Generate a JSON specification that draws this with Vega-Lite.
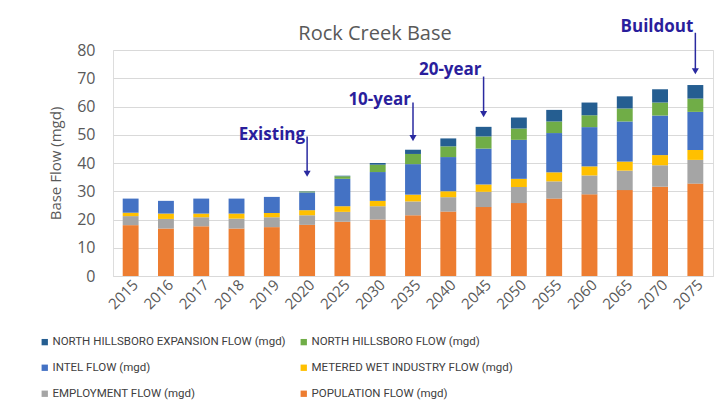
{
  "$schema": "https://vega.github.io/schema/vega-lite/v6.json",
  "width": 600,
  "height": 226,
  "autosize": {"type": "none"},
  "padding": {"left": 113, "top": 50, "right": 4, "bottom": 140},
  "background": "white",
  "title": {"text": "Rock Creek Base", "fontSize": 20, "font": "Open Sans", "fontWeight": "normal", "color": "#595959", "dx": -38, "offset": -26},
  "config": {
    "axisX": {"labelAngle": -45, "labelFont": "Open Sans", "labelFontSize": 15, "labelColor": "#595959", "ticks": false, "domain": true, "domainColor": "#d9d9d9", "labelPadding": 1, "grid": false},
    "axisY": {"titleFont": "Open Sans", "titleFontSize": 15, "titleFontWeight": "normal", "titleColor": "#595959", "titlePadding": 13, "labelFont": "Open Sans", "labelFontSize": 16, "labelColor": "#595959", "labelPadding": 18, "labelOverlap": false, "ticks": false, "domain": false, "grid": true, "gridColor": "#d9d9d9", "tickCount": 20}
  },
  "datasets": {
    "order": [
      {"series": "POPULATION FLOW (mgd)", "rank": 1},
      {"series": "EMPLOYMENT FLOW (mgd)", "rank": 2},
      {"series": "METERED WET INDUSTRY FLOW (mgd)", "rank": 3},
      {"series": "INTEL FLOW (mgd)", "rank": 4},
      {"series": "NORTH HILLSBORO FLOW (mgd)", "rank": 5},
      {"series": "NORTH HILLSBORO EXPANSION FLOW (mgd)", "rank": 6}
    ],
    "flows": [
      {"year": 2015, "series": "POPULATION FLOW (mgd)", "flow": 18.0},
      {"year": 2015, "series": "EMPLOYMENT FLOW (mgd)", "flow": 3.2},
      {"year": 2015, "series": "METERED WET INDUSTRY FLOW (mgd)", "flow": 1.2},
      {"year": 2015, "series": "INTEL FLOW (mgd)", "flow": 5.0},
      {"year": 2015, "series": "NORTH HILLSBORO FLOW (mgd)", "flow": 0},
      {"year": 2015, "series": "NORTH HILLSBORO EXPANSION FLOW (mgd)", "flow": 0},
      {"year": 2016, "series": "POPULATION FLOW (mgd)", "flow": 16.8},
      {"year": 2016, "series": "EMPLOYMENT FLOW (mgd)", "flow": 3.4},
      {"year": 2016, "series": "METERED WET INDUSTRY FLOW (mgd)", "flow": 1.9},
      {"year": 2016, "series": "INTEL FLOW (mgd)", "flow": 4.5},
      {"year": 2016, "series": "NORTH HILLSBORO FLOW (mgd)", "flow": 0},
      {"year": 2016, "series": "NORTH HILLSBORO EXPANSION FLOW (mgd)", "flow": 0},
      {"year": 2017, "series": "POPULATION FLOW (mgd)", "flow": 17.6},
      {"year": 2017, "series": "EMPLOYMENT FLOW (mgd)", "flow": 3.2},
      {"year": 2017, "series": "METERED WET INDUSTRY FLOW (mgd)", "flow": 1.3},
      {"year": 2017, "series": "INTEL FLOW (mgd)", "flow": 5.3},
      {"year": 2017, "series": "NORTH HILLSBORO FLOW (mgd)", "flow": 0},
      {"year": 2017, "series": "NORTH HILLSBORO EXPANSION FLOW (mgd)", "flow": 0},
      {"year": 2018, "series": "POPULATION FLOW (mgd)", "flow": 16.8},
      {"year": 2018, "series": "EMPLOYMENT FLOW (mgd)", "flow": 3.5},
      {"year": 2018, "series": "METERED WET INDUSTRY FLOW (mgd)", "flow": 1.8},
      {"year": 2018, "series": "INTEL FLOW (mgd)", "flow": 5.3},
      {"year": 2018, "series": "NORTH HILLSBORO FLOW (mgd)", "flow": 0},
      {"year": 2018, "series": "NORTH HILLSBORO EXPANSION FLOW (mgd)", "flow": 0},
      {"year": 2019, "series": "POPULATION FLOW (mgd)", "flow": 17.3},
      {"year": 2019, "series": "EMPLOYMENT FLOW (mgd)", "flow": 3.5},
      {"year": 2019, "series": "METERED WET INDUSTRY FLOW (mgd)", "flow": 1.5},
      {"year": 2019, "series": "INTEL FLOW (mgd)", "flow": 5.7},
      {"year": 2019, "series": "NORTH HILLSBORO FLOW (mgd)", "flow": 0},
      {"year": 2019, "series": "NORTH HILLSBORO EXPANSION FLOW (mgd)", "flow": 0},
      {"year": 2020, "series": "POPULATION FLOW (mgd)", "flow": 18.1},
      {"year": 2020, "series": "EMPLOYMENT FLOW (mgd)", "flow": 3.4},
      {"year": 2020, "series": "METERED WET INDUSTRY FLOW (mgd)", "flow": 1.8},
      {"year": 2020, "series": "INTEL FLOW (mgd)", "flow": 6.3},
      {"year": 2020, "series": "NORTH HILLSBORO FLOW (mgd)", "flow": 0.3},
      {"year": 2020, "series": "NORTH HILLSBORO EXPANSION FLOW (mgd)", "flow": 0.1},
      {"year": 2025, "series": "POPULATION FLOW (mgd)", "flow": 19.2},
      {"year": 2025, "series": "EMPLOYMENT FLOW (mgd)", "flow": 3.5},
      {"year": 2025, "series": "METERED WET INDUSTRY FLOW (mgd)", "flow": 2.0},
      {"year": 2025, "series": "INTEL FLOW (mgd)", "flow": 9.7},
      {"year": 2025, "series": "NORTH HILLSBORO FLOW (mgd)", "flow": 0.9},
      {"year": 2025, "series": "NORTH HILLSBORO EXPANSION FLOW (mgd)", "flow": 0.2},
      {"year": 2030, "series": "POPULATION FLOW (mgd)", "flow": 20.0},
      {"year": 2030, "series": "EMPLOYMENT FLOW (mgd)", "flow": 4.7},
      {"year": 2030, "series": "METERED WET INDUSTRY FLOW (mgd)", "flow": 1.9},
      {"year": 2030, "series": "INTEL FLOW (mgd)", "flow": 10.2},
      {"year": 2030, "series": "NORTH HILLSBORO FLOW (mgd)", "flow": 2.6},
      {"year": 2030, "series": "NORTH HILLSBORO EXPANSION FLOW (mgd)", "flow": 0.6},
      {"year": 2035, "series": "POPULATION FLOW (mgd)", "flow": 21.5},
      {"year": 2035, "series": "EMPLOYMENT FLOW (mgd)", "flow": 4.9},
      {"year": 2035, "series": "METERED WET INDUSTRY FLOW (mgd)", "flow": 2.4},
      {"year": 2035, "series": "INTEL FLOW (mgd)", "flow": 10.8},
      {"year": 2035, "series": "NORTH HILLSBORO FLOW (mgd)", "flow": 3.6},
      {"year": 2035, "series": "NORTH HILLSBORO EXPANSION FLOW (mgd)", "flow": 1.5},
      {"year": 2040, "series": "POPULATION FLOW (mgd)", "flow": 22.8},
      {"year": 2040, "series": "EMPLOYMENT FLOW (mgd)", "flow": 5.1},
      {"year": 2040, "series": "METERED WET INDUSTRY FLOW (mgd)", "flow": 2.1},
      {"year": 2040, "series": "INTEL FLOW (mgd)", "flow": 12.1},
      {"year": 2040, "series": "NORTH HILLSBORO FLOW (mgd)", "flow": 3.8},
      {"year": 2040, "series": "NORTH HILLSBORO EXPANSION FLOW (mgd)", "flow": 2.8},
      {"year": 2045, "series": "POPULATION FLOW (mgd)", "flow": 24.4},
      {"year": 2045, "series": "EMPLOYMENT FLOW (mgd)", "flow": 5.4},
      {"year": 2045, "series": "METERED WET INDUSTRY FLOW (mgd)", "flow": 2.6},
      {"year": 2045, "series": "INTEL FLOW (mgd)", "flow": 12.7},
      {"year": 2045, "series": "NORTH HILLSBORO FLOW (mgd)", "flow": 4.3},
      {"year": 2045, "series": "NORTH HILLSBORO EXPANSION FLOW (mgd)", "flow": 3.4},
      {"year": 2050, "series": "POPULATION FLOW (mgd)", "flow": 25.8},
      {"year": 2050, "series": "EMPLOYMENT FLOW (mgd)", "flow": 5.7},
      {"year": 2050, "series": "METERED WET INDUSTRY FLOW (mgd)", "flow": 2.9},
      {"year": 2050, "series": "INTEL FLOW (mgd)", "flow": 13.8},
      {"year": 2050, "series": "NORTH HILLSBORO FLOW (mgd)", "flow": 4.0},
      {"year": 2050, "series": "NORTH HILLSBORO EXPANSION FLOW (mgd)", "flow": 3.9},
      {"year": 2055, "series": "POPULATION FLOW (mgd)", "flow": 27.4},
      {"year": 2055, "series": "EMPLOYMENT FLOW (mgd)", "flow": 6.1},
      {"year": 2055, "series": "METERED WET INDUSTRY FLOW (mgd)", "flow": 3.2},
      {"year": 2055, "series": "INTEL FLOW (mgd)", "flow": 13.9},
      {"year": 2055, "series": "NORTH HILLSBORO FLOW (mgd)", "flow": 4.1},
      {"year": 2055, "series": "NORTH HILLSBORO EXPANSION FLOW (mgd)", "flow": 4.1},
      {"year": 2060, "series": "POPULATION FLOW (mgd)", "flow": 28.9},
      {"year": 2060, "series": "EMPLOYMENT FLOW (mgd)", "flow": 6.7},
      {"year": 2060, "series": "METERED WET INDUSTRY FLOW (mgd)", "flow": 3.2},
      {"year": 2060, "series": "INTEL FLOW (mgd)", "flow": 13.9},
      {"year": 2060, "series": "NORTH HILLSBORO FLOW (mgd)", "flow": 4.2},
      {"year": 2060, "series": "NORTH HILLSBORO EXPANSION FLOW (mgd)", "flow": 4.5},
      {"year": 2065, "series": "POPULATION FLOW (mgd)", "flow": 30.4},
      {"year": 2065, "series": "EMPLOYMENT FLOW (mgd)", "flow": 6.9},
      {"year": 2065, "series": "METERED WET INDUSTRY FLOW (mgd)", "flow": 3.2},
      {"year": 2065, "series": "INTEL FLOW (mgd)", "flow": 14.2},
      {"year": 2065, "series": "NORTH HILLSBORO FLOW (mgd)", "flow": 4.6},
      {"year": 2065, "series": "NORTH HILLSBORO EXPANSION FLOW (mgd)", "flow": 4.3},
      {"year": 2070, "series": "POPULATION FLOW (mgd)", "flow": 31.6},
      {"year": 2070, "series": "EMPLOYMENT FLOW (mgd)", "flow": 7.6},
      {"year": 2070, "series": "METERED WET INDUSTRY FLOW (mgd)", "flow": 3.6},
      {"year": 2070, "series": "INTEL FLOW (mgd)", "flow": 14.0},
      {"year": 2070, "series": "NORTH HILLSBORO FLOW (mgd)", "flow": 4.6},
      {"year": 2070, "series": "NORTH HILLSBORO EXPANSION FLOW (mgd)", "flow": 4.7},
      {"year": 2075, "series": "POPULATION FLOW (mgd)", "flow": 32.7},
      {"year": 2075, "series": "EMPLOYMENT FLOW (mgd)", "flow": 8.4},
      {"year": 2075, "series": "METERED WET INDUSTRY FLOW (mgd)", "flow": 3.5},
      {"year": 2075, "series": "INTEL FLOW (mgd)", "flow": 13.5},
      {"year": 2075, "series": "NORTH HILLSBORO FLOW (mgd)", "flow": 4.7},
      {"year": 2075, "series": "NORTH HILLSBORO EXPANSION FLOW (mgd)", "flow": 4.8}
    ],
    "notes": [
      {"year": 2020, "label": "Existing", "top": 49.4, "tip": 36.2, "base": 48.3},
      {"year": 2035, "label": "10-year", "top": 61.4, "tip": 48.8, "base": 60.7},
      {"year": 2045, "label": "20-year", "top": 70.6, "tip": 57.3, "base": 71.3},
      {"year": 2075, "label": "Buildout", "top": 86.1, "tip": 72.5, "base": 86.5}
    ]
  },
  "layer": [
    {
      "data": {"name": "flows"},
      "transform": [
        {"lookup": "series", "from": {"data": {"name": "order"}, "key": "series", "fields": ["rank"]}}
      ],
      "mark": {"type": "bar"},
      "encoding": {
        "x": {
          "field": "year", "type": "ordinal",
          "scale": {"domain": [2015, 2016, 2017, 2018, 2019, 2020, 2025, 2030, 2035, 2040, 2045, 2050, 2055, 2060, 2065, 2070, 2075], "paddingInner": 0.55, "paddingOuter": 0.275},
          "axis": {"title": null}
        },
        "y": {
          "field": "flow", "type": "quantitative", "stack": "zero",
          "scale": {"domain": [0, 80], "nice": false},
          "axis": {"title": "Base Flow (mgd)", "values": [0, 10, 20, 30, 40, 50, 60, 70, 80], "tickCount": 20}
        },
        "order": {"field": "rank", "type": "quantitative", "sort": "ascending"},
        "color": {
          "field": "series", "type": "nominal",
          "scale": {
            "domain": ["POPULATION FLOW (mgd)", "EMPLOYMENT FLOW (mgd)", "METERED WET INDUSTRY FLOW (mgd)", "INTEL FLOW (mgd)", "NORTH HILLSBORO FLOW (mgd)", "NORTH HILLSBORO EXPANSION FLOW (mgd)"],
            "range": ["#ed7d31", "#a5a5a5", "#ffc000", "#4472c4", "#70ad47", "#255e91"]
          },
          "legend": {
            "title": null, "orient": "none", "legendX": -74, "legendY": 286,
            "columns": 2, "direction": "horizontal",
            "values": ["NORTH HILLSBORO EXPANSION FLOW (mgd)", "NORTH HILLSBORO FLOW (mgd)", "INTEL FLOW (mgd)", "METERED WET INDUSTRY FLOW (mgd)", "EMPLOYMENT FLOW (mgd)", "POPULATION FLOW (mgd)"],
            "symbolType": "square", "symbolSize": 40, "symbolStrokeWidth": 0,
            "labelFont": "Roboto", "labelFontSize": 11.5, "labelColor": "#404040", "labelLimit": 400, "labelOffset": 2,
            "rowPadding": 13, "columnPadding": 12
          }
        }
      }
    },
    {
      "data": {"name": "notes"},
      "mark": {"type": "rule", "color": "#2a2aa0", "strokeWidth": 1.5},
      "encoding": {
        "x": {"field": "year", "type": "ordinal", "axis": {"title": null}},
        "y": {"field": "top", "type": "quantitative", "axis": {"title": "Base Flow (mgd)", "values": [0, 10, 20, 30, 40, 50, 60, 70, 80], "tickCount": 20}},
        "y2": {"field": "tip"}
      }
    },
    {
      "data": {"name": "notes"},
      "mark": {"type": "point", "shape": "triangle-down", "filled": true, "size": 50, "color": "#2a2aa0", "opacity": 1},
      "encoding": {
        "x": {"field": "year", "type": "ordinal", "axis": {"title": null}},
        "y": {"field": "tip", "type": "quantitative", "axis": {"title": "Base Flow (mgd)", "values": [0, 10, 20, 30, 40, 50, 60, 70, 80], "tickCount": 20}}
      }
    },
    {
      "data": {"name": "notes"},
      "mark": {"type": "text", "align": "right", "baseline": "alphabetic", "dx": -2, "font": "Open Sans", "fontSize": 17, "fontWeight": "bold", "color": "#2a1e9c"},
      "encoding": {
        "x": {"field": "year", "type": "ordinal", "axis": {"title": null}},
        "y": {"field": "base", "type": "quantitative", "axis": {"title": "Base Flow (mgd)", "values": [0, 10, 20, 30, 40, 50, 60, 70, 80], "tickCount": 20}},
        "text": {"field": "label"}
      }
    }
  ]
}
